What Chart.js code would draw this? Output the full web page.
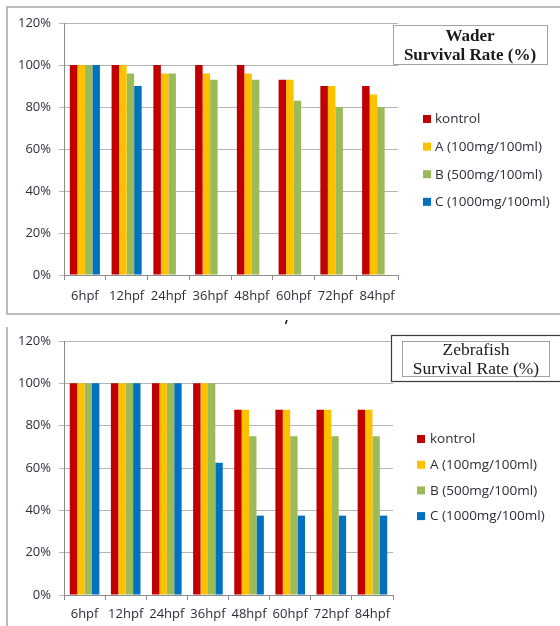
<!DOCTYPE html>
<html>
<head>
<meta charset="utf-8">
<script src="https://cdn.jsdelivr.net/npm/chart.js@4.4.1/dist/chart.umd.min.js"></script>
<style>
  html, body { margin: 0; padding: 0; background: #ffffff; }
  body { width: 560px; height: 626px; position: relative; overflow: hidden; }
  canvas { position: absolute; left: 0; }
  #waderCanvas { top: 0; }
  #zebraCanvas { top: 318px; }
</style>
</head>
<body>
<canvas id="waderCanvas" width="560" height="318"></canvas>
<canvas id="zebraCanvas" width="560" height="308"></canvas>
<script>
// Time points (hours post fertilisation)
const categories = ['6hpf', '12hpf', '24hpf', '36hpf', '48hpf', '60hpf', '72hpf', '84hpf'];

// Treatment groups
const seriesNames = ['kontrol', 'A (100mg/100ml)', 'B (500mg/100ml)', 'C (1000mg/100ml)'];
const seriesColors = ['#C00000', '#FFC000', '#9BBB59', '#0070C0'];

// Wader survival rate (%)
const waderKontrol = [100, 100, 100, 100, 100, 93, 90, 90];
const waderA       = [100, 100, 96, 96, 96, 93, 90, 86];
const waderB       = [100, 96, 96, 93, 93, 83, 80, 80];
const waderC       = [100, 90, 0, 0, 0, 0, 0, 0];

// Zebrafish survival rate (%)
const zebraKontrol = [100, 100, 100, 100, 87.5, 87.5, 87.5, 87.5];
const zebraA       = [100, 100, 100, 100, 87.5, 87.5, 87.5, 87.5];
const zebraB       = [100, 100, 100, 100, 75, 75, 75, 75];
const zebraC       = [100, 100, 100, 62.5, 37.5, 37.5, 37.5, 37.5];

// Y axis ticks
const yTicks = [0, 20, 40, 60, 80, 100, 120];

const tickFont = { family: "'Open Sans', sans-serif", size: 13 };
const textColor = '#2c2f3a';

// Legend drawn at a fixed spot to the right of the plot
const sideLegend = {
  id: 'sideLegend',
  afterDraw(chart, args, opts) {
    const ctx = chart.ctx;
    ctx.save();
    ctx.font = `${opts.fontSize}px 'Open Sans', sans-serif`;
    ctx.textBaseline = 'middle';
    ctx.textAlign = 'left';
    chart.data.datasets.forEach((ds, i) => {
      const cy = opts.top + i * opts.gap;
      ctx.fillStyle = ds.backgroundColor;
      ctx.fillRect(opts.boxX, cy - 4, 8, 8);
      ctx.fillStyle = textColor;
      ctx.fillText(ds.label, opts.textX, cy + 0.5);
    });
    ctx.restore();
  }
};

// Frame around the chart plus the title box
const decorations = {
  id: 'decorations',
  afterDraw(chart, args, opts) {
    const ctx = chart.ctx;
    ctx.save();
    ctx.strokeStyle = '#a6a6a6';
    ctx.lineWidth = 1.5;
    if (opts.frame === 'full') {
      // frame runs on past the right edge of the page
      ctx.strokeRect(7, 7, 600, 307);
    } else if (opts.frame === 'left') {
      ctx.beginPath();
      ctx.moveTo(7, 9);
      ctx.lineTo(7, chart.height);
      ctx.stroke();
    }
    const t = opts.title;
    if (t.outer) {
      ctx.fillStyle = '#ffffff';
      ctx.fillRect(t.outer[0], t.outer[1], t.outer[2], t.outer[3]);
      ctx.strokeStyle = '#3a3a3a';
      ctx.lineWidth = 1.2;
      ctx.strokeRect(t.outer[0] + 0.5, t.outer[1] + 0.5, t.outer[2], t.outer[3]);
    }
    ctx.fillStyle = '#ffffff';
    ctx.fillRect(t.box[0], t.box[1], t.box[2], t.box[3]);
    ctx.strokeStyle = '#444444';
    ctx.lineWidth = 1;
    ctx.setLineDash([1, 1]);
    ctx.strokeRect(t.box[0] + 0.5, t.box[1] + 0.5, t.box[2], t.box[3]);
    ctx.setLineDash([]);
    ctx.fillStyle = '#1a1a1a';
    ctx.font = `${t.weight} ${t.size}px 'Liberation Serif', 'Times New Roman', serif`;
    ctx.textAlign = 'center';
    ctx.textBaseline = 'middle';
    t.lines.forEach((line, i) => ctx.fillText(line, t.cx, t.lineY[i]));
    if (opts.mark) {
      ctx.strokeStyle = '#111111';
      ctx.lineWidth = 1.5;
      ctx.beginPath();
      ctx.moveTo(opts.mark[0], opts.mark[1]);
      ctx.lineTo(opts.mark[0] - 1.5, opts.mark[1] + 4);
      ctx.stroke();
    }
    ctx.restore();
  }
};

function buildChart(canvasId, values, geo) {
  const datasets = values.map((vals, i) => ({
    label: seriesNames[i],
    data: vals,
    backgroundColor: seriesColors[i],
    borderWidth: 0,
    categoryPercentage: 0.72,
    barPercentage: 1.0
  }));
  return new Chart(document.getElementById(canvasId), {
    type: 'bar',
    data: { labels: categories, datasets },
    plugins: [sideLegend, decorations],
    options: {
      responsive: false,
      animation: false,
      devicePixelRatio: 1,
      layout: { padding: { left: 0, top: geo.top, right: geo.right, bottom: 0 } },
      scales: {
        x: {
          grid: { display: true, drawOnChartArea: false, drawTicks: true, tickLength: 5, color: '#8c8c8c', offset: true },
          border: { display: true, color: '#8c8c8c', width: 1 },
          ticks: { font: tickFont, color: textColor, padding: geo.xPad, maxRotation: 0, autoSkip: false },
          afterFit(s) { s.height = geo.xHeight; }
        },
        y: {
          min: 0,
          max: 120,
          afterBuildTicks(s) { s.ticks = yTicks.map(v => ({ value: v })); },
          grid: { color: '#b5b5b5', tickLength: 5, drawTicks: true },
          border: { display: true, color: '#8c8c8c', width: 1 },
          ticks: { font: tickFont, color: textColor, padding: 8, callback: v => v + '%' },
          afterFit(s) { s.width = 64; }
        }
      },
      plugins: {
        legend: { display: false },
        tooltip: { enabled: false },
        sideLegend: geo.legend,
        decorations: geo.deco
      }
    }
  });
}

buildChart('waderCanvas', [waderKontrol, waderA, waderB, waderC], {
  top: 23, right: 162, xHeight: 43, xPad: 8,
  legend: { boxX: 423, textX: 435, top: 119, gap: 27.6, fontSize: 13.5 },
  deco: {
    frame: 'full',
    title: {
      box: [393, 25, 154, 39],
      cx: 470, lineY: [37, 56],
      lines: ['Wader', 'Survival Rate (%)'],
      weight: 'bold', size: 17
    }
  }
});

buildChart('zebraCanvas', [zebraKontrol, zebraA, zebraB, zebraC], {
  top: 23, right: 167, xHeight: 31, xPad: 6,
  legend: { boxX: 417, textX: 430, top: 121, gap: 25.7, fontSize: 13.5 },
  deco: {
    frame: 'left',
    mark: [287, 2],
    title: {
      outer: [391, 17, 175, 46],
      box: [402, 23, 147, 35],
      cx: 476, lineY: [32.5, 51.5],
      lines: ['Zebrafish', 'Survival Rate (%)'],
      weight: 'normal', size: 17.5
    }
  }
});
</script>
</body>
</html>
